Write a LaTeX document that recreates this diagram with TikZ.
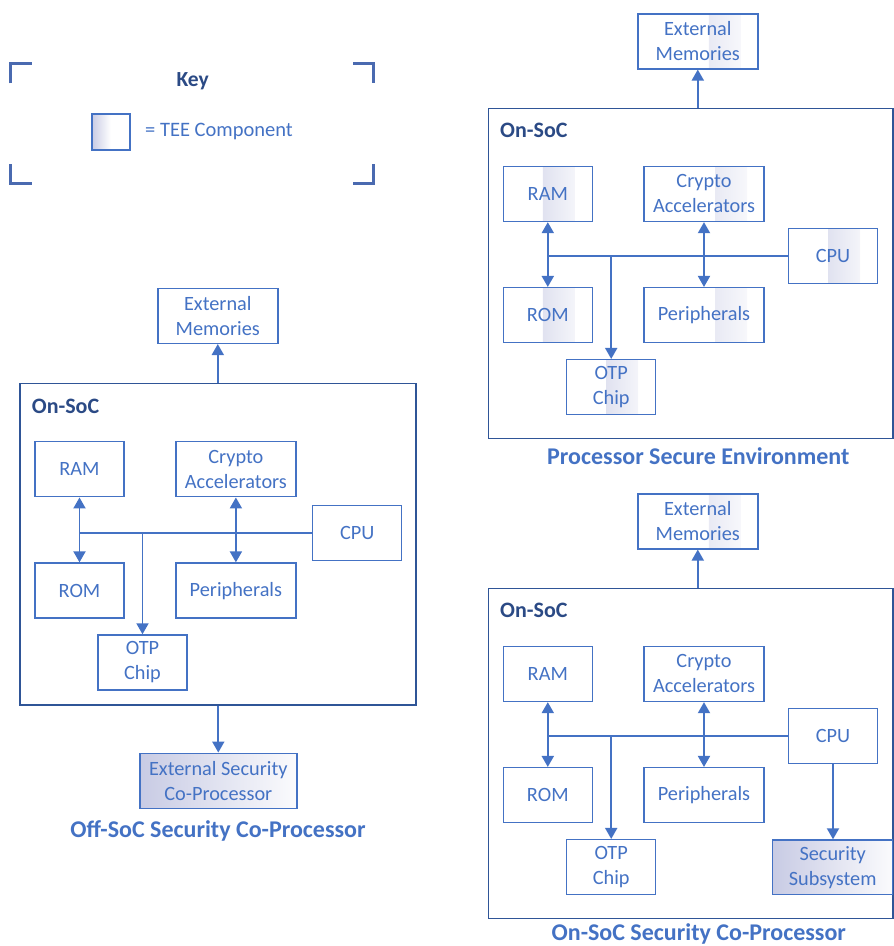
\documentclass[tikz,border=0pt]{standalone}
\usepackage{fontspec}
\setmainfont{Carlito}
\usetikzlibrary{arrows.meta,calc}
\definecolor{boxblue}{HTML}{4472C4}
\definecolor{socblue}{HTML}{2F5597}
\definecolor{navy}{HTML}{2B4A85}
\definecolor{teeshade}{RGB}{200,203,228}
\definecolor{keyblue}{HTML}{4A6AB0}

\tikzset{
  unit/.style={draw=boxblue, line width=1.5pt, text=boxblue,
    font=\fontsize{20.3}{25}\selectfont, align=center, inner sep=0pt,
    minimum height=55pt},
  narrow/.style={unit, minimum width=89pt},
  wide/.style={unit, minimum width=120pt},
  % TEE component: a soft band starting #1 pt right of the box centre
  band/.style={path picture={
    \shade[left color=teeshade, right color=white]
      ($(path picture bounding box.south)+(#1,0)$) rectangle
      ($(path picture bounding box.north)+(#1+32,0)$);}},
  nband/.style={narrow, band=-5},
  wband/.style={wide, band=11},
  teefull/.style={left color=teeshade, right color=white!92!teeshade},
  soc/.style={draw=socblue, line width=1.5pt, inner sep=0pt},
  socname/.style={text=navy, font=\bfseries\fontsize{22}{26}\selectfont,
    anchor=west, inner sep=0pt},
  title/.style={text=boxblue, font=\bfseries\fontsize{24}{29}\selectfont,
    inner sep=0pt},
  bus/.style={draw=boxblue, line width=1.9pt},
  >={Triangle[width=12pt,length=11pt]},
  keycorner/.style={draw=keyblue, line width=3pt},
}

\begin{document}
\begin{tikzpicture}[x=1pt,y=-1pt]
\useasboundingbox (0,0) rectangle (894,946);

% ---------- key ----------
\draw[keycorner] (10.8,83.3) |- (31.7,63.2);
\draw[keycorner] (353.3,63.2) -| (373.5,83.3);
\draw[keycorner] (10.8,164) |- (31.7,183.5);
\draw[keycorner] (353.3,183.5) -| (373.5,164);
\node[text=navy, font=\bfseries\fontsize{21.5}{25}\selectfont, inner sep=0pt] (keytitle) at (192.7,81.7) {Key};
\node[draw=boxblue, line width=1.5pt, minimum width=38pt, minimum height=36pt, inner sep=0pt,
      left color=teeshade, right color=white, middle color=white] (keybox) at (110.8,132.2) {};
\node[text=boxblue, font=\fontsize{20.5}{25}\selectfont, anchor=west, inner sep=0pt] (keytext) at (145,131.7) {= TEE Component};

% ---------- off-SoC security co-processor ----------
\node[soc, minimum width=396pt, minimum height=321.7pt] (a-soc) at (218,544.2) {};
\node[socname] (a-name) at (31.7,406) {On-SoC};
\node[wide] (a-ext) at (217.8,315.8) {External\\Memories};
\node[narrow] (a-ram) at (79.5,469.2) {RAM};
\node[wide] (a-crypto) at (235.9,469.2) {Crypto\\Accelerators};
\node[narrow] (a-cpu) at (357.2,533) {CPU};
\node[narrow] (a-rom) at (79.5,590.6) {ROM};
\node[wide] (a-periph) at (235.9,590.6) {Peripherals};
\node[narrow] (a-otp) at (142.5,662.5) {OTP\\Chip};
\node[unit, minimum width=157pt, teefull] (a-escp) at (218.3,780.8) {External Security\\Co-Processor};
\node[title] (a-title) at (218,831) {Off-SoC Security Co-Processor};

\draw[bus,->] (a-ext.south |- a-soc.north) -- (a-ext.south);
\draw[bus] (a-cpu.west) -- (a-cpu.west -| a-ram.south);
\draw[bus,<->] (a-ram) -- (a-rom);
\draw[bus,<->] (a-crypto) -- (a-periph);
\draw[bus,->] (a-cpu.west -| a-otp.north) -- (a-otp.north);
\draw[bus,->] (a-soc.south -| a-escp.north) -- (a-escp.north);

% ---------- processor secure environment ----------
\node[soc, minimum width=404.7pt, minimum height=330pt] (b-soc) at (690.6,273.3) {};
\node[socname] (b-name) at (500,130) {On-SoC};
\node[wband] (b-ext) at (697.8,41.3) {External\\Memories};
\node[nband] (b-ram) at (547.8,193.9) {RAM};
\node[wband] (b-crypto) at (704,193.9) {Crypto\\Accelerators};
\node[nband] (b-cpu) at (833,255.8) {CPU};
\node[nband] (b-rom) at (547.8,315.2) {ROM};
\node[wband] (b-periph) at (704,315.2) {Peripherals};
\node[nband] (b-otp) at (611.2,387.2) {OTP\\Chip};
\node[title] (b-title) at (698.3,456.5) {Processor Secure Environment};

\draw[bus,->] (b-ext.south |- b-soc.north) -- (b-ext.south);
\draw[bus] (b-cpu.west) -- (b-cpu.west -| b-ram.south);
\draw[bus,<->] (b-ram) -- (b-rom);
\draw[bus,<->] (b-crypto) -- (b-periph);
\draw[bus,->] (b-cpu.west -| b-otp.north) -- (b-otp.north);

% ---------- on-SoC security co-processor ----------
\node[soc, minimum width=404.7pt, minimum height=330pt] (c-soc) at (690.6,753.3) {};
\node[socname] (c-name) at (500,610) {On-SoC};
\node[wband] (c-ext) at (697.8,521.3) {External\\Memories};
\node[narrow] (c-ram) at (547.8,673.9) {RAM};
\node[wide] (c-crypto) at (704,673.9) {Crypto\\Accelerators};
\node[narrow] (c-cpu) at (833,735.8) {CPU};
\node[narrow] (c-rom) at (547.8,795.2) {ROM};
\node[wide] (c-periph) at (704,795.2) {Peripherals};
\node[narrow] (c-otp) at (611.2,867.2) {OTP\\Chip};
\node[wide, minimum height=54.3pt, teefull] (c-sec) at (832.7,867.2) {Security\\Subsystem};
\node[title] (c-title) at (698.8,933.8) {On-SoC Security Co-Processor};

\draw[bus,->] (c-ext.south |- c-soc.north) -- (c-ext.south);
\draw[bus] (c-cpu.west) -- (c-cpu.west -| c-ram.south);
\draw[bus,<->] (c-ram) -- (c-rom);
\draw[bus,<->] (c-crypto) -- (c-periph);
\draw[bus,->] (c-cpu.west -| c-otp.north) -- (c-otp.north);
\draw[bus,->] (c-cpu.south) -- (c-cpu.south |- c-sec.north);
\end{tikzpicture}
\end{document}
